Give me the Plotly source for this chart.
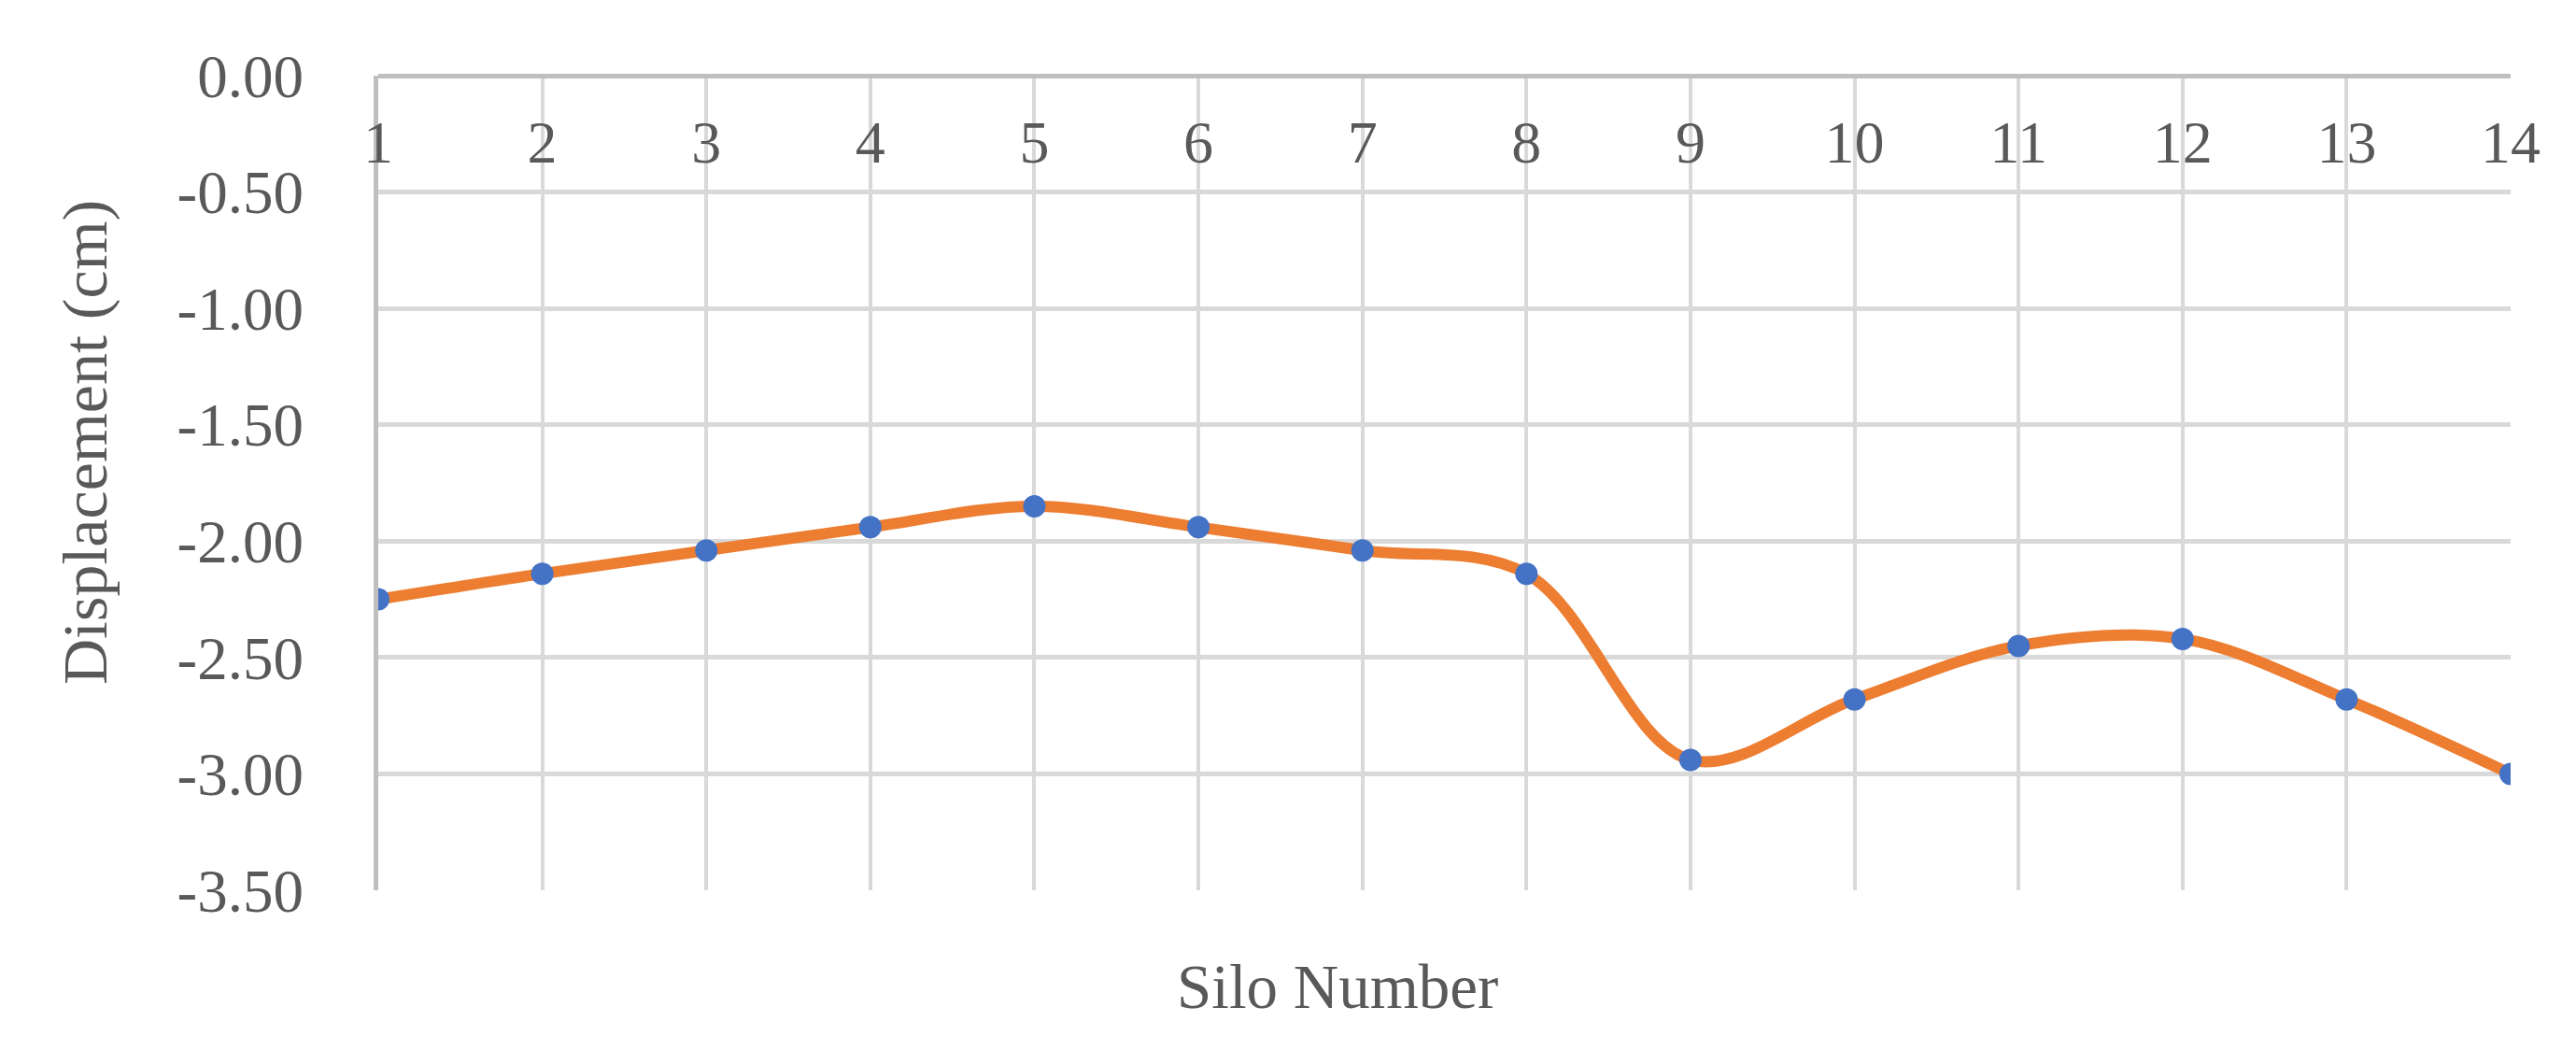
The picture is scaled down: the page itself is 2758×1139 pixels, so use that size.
import plotly.graph_objects as go

silo = list(range(1, 15))
displacement = [-2.25, -2.14, -2.04, -1.94, -1.85, -1.94, -2.04, -2.14,
                -2.94, -2.68, -2.45, -2.42, -2.68, -3.00]
y_ticks = [0, -0.5, -1.0, -1.5, -2.0, -2.5, -3.0, -3.5]
y_ticktext = ["0.00", "-0.50", "-1.00", "-1.50", "-2.00", "-2.50", "-3.00", "-3.50"]

W, H = 2758, 1139
L, R, T, B = 397, 78, 73, 194
FONT = "Liberation Serif"
TXT = "#595959"

fig = go.Figure()
fig.add_trace(go.Scatter(
    x=silo, y=displacement, mode="lines",
    line=dict(color="#ED7D31", width=12, shape="spline", smoothing=1.0),
    hoverinfo="skip", showlegend=False))
fig.add_trace(go.Scatter(
    x=silo, y=displacement, mode="markers",
    marker=dict(color="#4472C4", size=24, line=dict(width=0)),
    showlegend=False))

fig.update_layout(
    width=W, height=H,
    margin=dict(l=L, r=R, t=T, b=B),
    paper_bgcolor="white", plot_bgcolor="white",
    font=dict(family=FONT, size=64, color=TXT),
    xaxis=dict(
        range=[1, 14], tickmode="array", tickvals=silo,
        ticktext=[str(s) for s in silo],
        anchor="free", position=1.0, side="bottom",
        showgrid=True, gridcolor="#d9d9d9", gridwidth=4,
        zeroline=False, showline=False, ticks="",
        ticklabelstandoff=28,
        tickfont=dict(family=FONT, size=64, color=TXT),
    ),
    yaxis=dict(
        range=[-3.5, 0], tickmode="array", tickvals=y_ticks,
        ticktext=y_ticktext,
        showgrid=True, gridcolor="#d9d9d9", gridwidth=5,
        zeroline=True, zerolinecolor="#bfbfbf", zerolinewidth=5,
        showline=True, linecolor="#bfbfbf", linewidth=5,
        ticks="", ticklabelstandoff=62,
        tickfont=dict(family=FONT, size=65, color=TXT),
    ),
    annotations=[
        dict(text="Displacement (cm)", xref="paper", yref="paper",
             x=-(L - 83) / (W - L - R), y=(H - B - 466) / (H - T - B),
             textangle=-90,
             showarrow=False, xanchor="center", yanchor="middle",
             font=dict(family=FONT, size=68, color=TXT)),
        dict(text="Silo Number", xref="paper", yref="paper",
             x=(1424 - L) / (W - L - R), y=-(1048 - (H - B)) / (H - T - B),
             showarrow=False, xanchor="center", yanchor="middle",
             font=dict(family=FONT, size=67, color=TXT)),
    ],
)

fig.write_html("out.html")
